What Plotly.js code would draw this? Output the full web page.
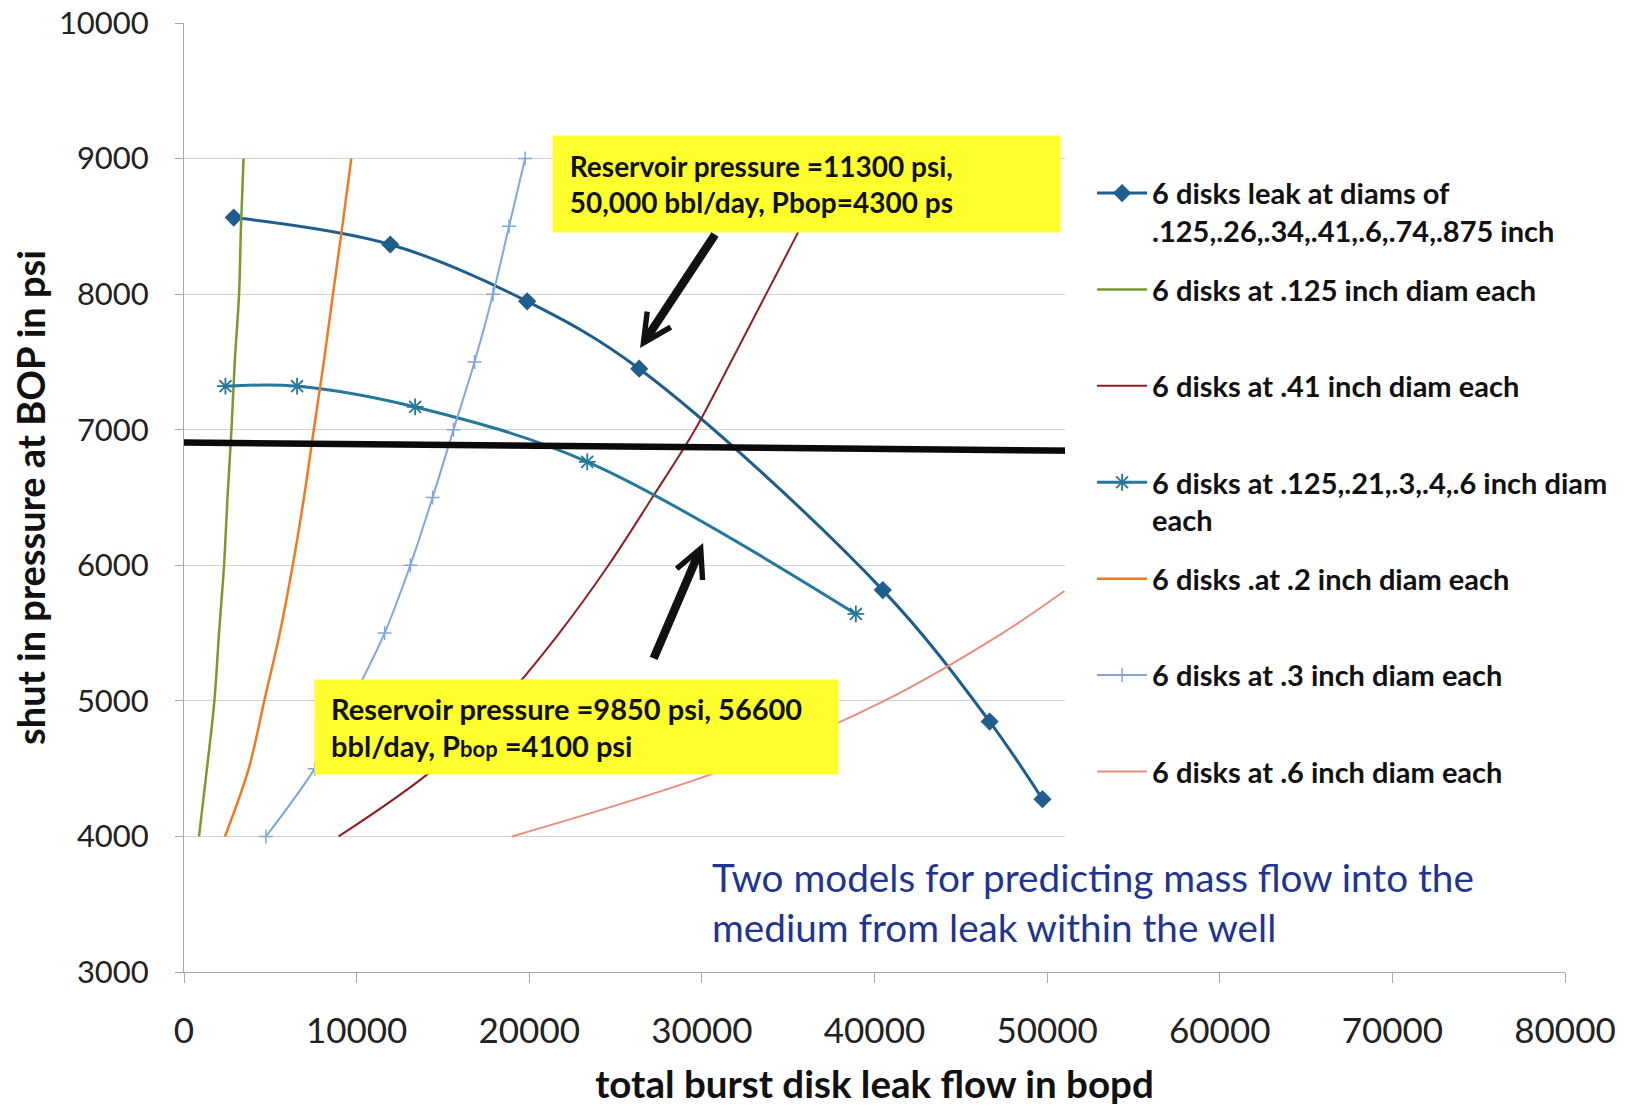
<!DOCTYPE html>
<html>
<head>
<meta charset="utf-8">
<script src="https://cdn.plot.ly/plotly-3.0.1.min.js"></script>
<style>
html,body{margin:0;padding:0;background:#ffffff;}
#chart{width:1625px;height:1106px;}
</style>
</head>
<body>
<div id="chart"></div>
<script>
// ---- Data ----
// x = total burst disk leak flow (bopd), y = shut in pressure at BOP (psi)
const pressureLevels = [4000, 4500, 5000, 5500, 6000, 6500, 7000, 7500, 8000, 8500, 9000];

const leakDiamsX = [2880, 11950, 19880, 26370, 40480, 46670, 49730];
const leakDiamsY = [8565, 8366, 7947, 7450, 5817, 4847, 4275];

const disk125X = [870, 1330, 1760, 2030, 2320, 2520, 2750, 2940, 3190, 3300, 3450];
const disk41X  = [8960, 14500, 18490, 21740, 24590, 27130, 29600, 31680, 33720, 35750, 37700];
const disk2X   = [2375, 3750, 4650, 5550, 6300, 6950, 7520, 8100, 8630, 9170, 9690];
const disk3X   = [4750, 7570, 9700, 11620, 13110, 14400, 15610, 16830, 17900, 18830, 19760];

const mixedX = [2400, 6550, 13390, 23360, 38920];
const mixedY = [7321, 7321, 7168, 6763, 5641];

const disk6X = [19000, 31450, 40560, 47420, 51000];
const disk6Y = [4000, 4500, 5000, 5500, 5810];

const refLineX = [-750, 51970];
const refLineY = [6906, 6845];

const NB = '\u00A0';
const seriesNames = [
  '<b>6 disks leak at diams of<br>.125,.26,.34,.41,.6,.74,.875 inch</b>',
  '<b>6 disks at .125 inch diam each<br>' + NB + '</b>',
  '<b>6 disks at .41 inch diam each<br>' + NB + '</b>',
  '<b>6 disks at .125,.21,.3,.4,.6 inch diam<br>each</b>',
  '<b>6 disks .at .2 inch diam each<br>' + NB + '</b>',
  '<b>6 disks at .3 inch diam each<br>' + NB + '</b>',
  '<b>6 disks at .6 inch diam each<br>' + NB + '</b>'
];
const xTickVals = [0, 10000, 20000, 30000, 40000, 50000, 60000, 70000, 80000];
const yTickVals = [3000, 4000, 5000, 6000, 7000, 8000, 9000, 10000];

// ---- Traces ----
const traces = [
  {x: leakDiamsX, y: leakDiamsY, name: seriesNames[0], legendgroup: 'g0', mode: 'lines+markers',
   line: {color: '#1d5e8c', width: 3, shape: 'spline', smoothing: 1},
   marker: {symbol: 'diamond', size: 14, color: '#1d5e8c'}},
  {x: disk125X, y: pressureLevels, name: seriesNames[1], legendgroup: 'g1', mode: 'lines',
   line: {color: '#7a9a2e', width: 2.5, shape: 'spline'}},
  {x: disk41X, y: pressureLevels, name: seriesNames[2], legendgroup: 'g2', mode: 'lines',
   line: {color: '#8e1f22', width: 2, shape: 'spline'}},
  {x: mixedX, y: mixedY, name: seriesNames[3], legendgroup: 'g3', mode: 'lines+markers',
   line: {color: '#24789a', width: 3, shape: 'spline', smoothing: 1},
   marker: {symbol: 'asterisk-open', size: 14, line: {color: '#3f8fb4', width: 1.8}}},
  {x: disk2X, y: pressureLevels, name: seriesNames[4], legendgroup: 'g4', mode: 'lines',
   line: {color: '#f07a22', width: 2.5, shape: 'spline'}},
  {x: disk3X, y: pressureLevels, name: seriesNames[5], legendgroup: 'g5', mode: 'lines+markers',
   line: {color: '#7ea8d8', width: 2, shape: 'spline'},
   marker: {symbol: 'cross-thin-open', size: 10, line: {color: '#7ea8d8', width: 1.5}}},
  {x: disk6X, y: disk6Y, name: seriesNames[6], legendgroup: 'g6', mode: 'lines',
   line: {color: '#e88f80', width: 2, shape: 'spline'}},
  {x: refLineX, y: refLineY, mode: 'lines', showlegend: false, hoverinfo: 'skip',
   line: {color: '#0a0a0a', width: 6.5}}
];

const FONT = 'Lato, "Open Sans", sans-serif';

const layout = {
  width: 1625, height: 1106,
  margin: {l: 184, r: 60, t: 23, b: 134, autoexpand: false},
  paper_bgcolor: '#ffffff', plot_bgcolor: '#ffffff',
  font: {family: FONT, color: '#111111'},
  showlegend: true,
  xaxis: {
    range: [0, 80000], tickvals: xTickVals, tickformat: 'd',
    showgrid: false, zeroline: false, showline: true, linecolor: '#a8a8a8', linewidth: 1,
    ticks: 'outside', ticklen: 10, tickcolor: '#a8a8a8', tickwidth: 1,
    tickfont: {family: FONT, size: 35, color: '#222222'}, ticklabelstandoff: 18,
    title: {text: '<b>total burst disk leak flow in bopd</b>', font: {family: FONT, size: 38.5, color: '#111111'}, standoff: 24}
  },
  yaxis: {
    range: [3000, 10000], tickvals: yTickVals, tickformat: 'd',
    showgrid: true, gridcolor: '#d3d3d3', gridwidth: 1, zeroline: false,
    showline: true, linecolor: '#a8a8a8', linewidth: 1,
    ticks: 'outside', ticklen: 8, tickcolor: '#a8a8a8',
    tickfont: {family: FONT, size: 31, color: '#222222'}, ticklabelstandoff: 20,
    title: {text: '<b>shut in pressure at BOP in psi</b>', font: {family: FONT, size: 38, color: '#111111'}, standoff: 1}
  },
  legend: {
    x: 0.638, xanchor: 'left', y: 0.876, yanchor: 'top',
    bgcolor: '#ffffff', bordercolor: '#ffffff', borderwidth: 27,
    font: {family: FONT, size: 29, color: '#111111'},
    itemwidth: 50, valign: 'top', traceorder: 'grouped', tracegroupgap: 18
  },
  annotations: [
    {xref: 'x', yref: 'y', x: 21321, y: 9174, xanchor: 'left', yanchor: 'top',
     text: '<b>' + NB + 'Reservoir pressure =11300 psi,<br>' + NB + '50,000 bbl/day, Pbop=4300 ps</b>',
     showarrow: false, align: 'left', valign: 'middle',
     bgcolor: '#ffff2e', borderpad: 10, width: 487, height: 76,
     font: {family: FONT, size: 28, color: '#111111'}},
    {xref: 'x', yref: 'y', x: 7532, y: 5162, xanchor: 'left', yanchor: 'top',
     text: '<b>' + NB + 'Reservoir pressure =9850 psi, 56600<br>' + NB + 'bbl/day, P<span style="font-size:22px">bop</span> =4100 psi</b>',
     showarrow: false, align: 'left', valign: 'middle',
     bgcolor: '#ffff2e', borderpad: 9, width: 505, height: 76,
     font: {family: FONT, size: 29, color: '#111111'}},
    {xref: 'x', yref: 'y', x: 30475, y: 3886, xanchor: 'left', yanchor: 'top',
     text: 'Two models for predicting mass flow into the<br>medium from leak within the well',
     showarrow: false, align: 'left',
     font: {family: FONT, size: 38.7, color: '#1f3590'}},
    {xref: 'x', yref: 'y', axref: 'x', ayref: 'y', x: 26420, y: 7603, ax: 30820, ay: 8451,
     text: '', showarrow: true, arrowhead: 5, arrowsize: 0.65, arrowwidth: 8.5, arrowcolor: '#111111', standoff: 0},
    {xref: 'x', yref: 'y', axref: 'x', ayref: 'y', x: 30070, y: 6165, ax: 27170, ay: 5302,
     text: '', showarrow: true, arrowhead: 5, arrowsize: 0.65, arrowwidth: 8.5, arrowcolor: '#111111', standoff: 0}
  ]
};

Plotly.newPlot('chart', traces, layout, {displayModeBar: false, staticPlot: true});
</script>
</body>
</html>
